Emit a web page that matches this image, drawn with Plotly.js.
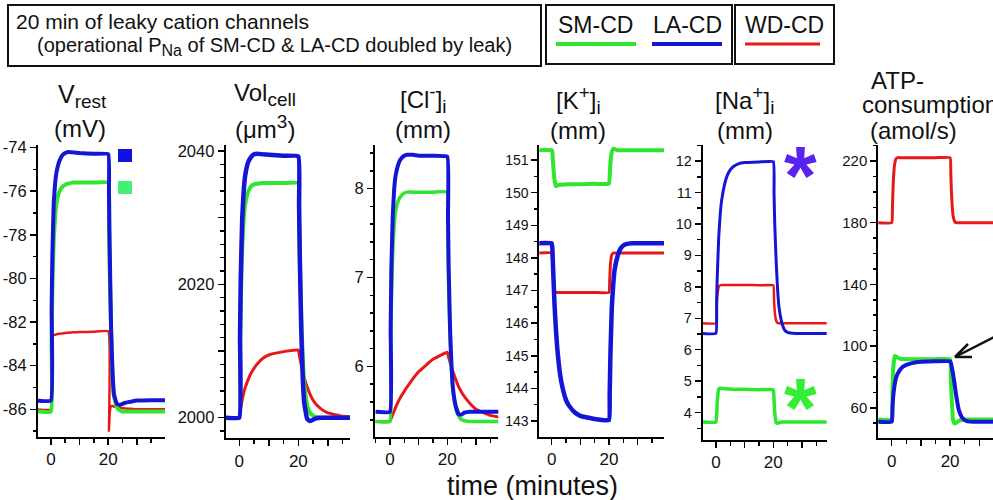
<!DOCTYPE html>
<html><head><meta charset="utf-8">
<script src="https://cdn.plot.ly/plotly-3.0.1.min.js"></script>
<style>html,body{margin:0;padding:0;background:#fff}#chart{width:993px;height:500px}</style>
</head><body><div id="chart"></div>
<script>
// ---- data (time in minutes) ----
const time = [-5, 0, 0.25, 0.5, 1, 1.5, 2, 3, 4, 5, 6, 8, 10, 15, 20, 20.25, 20.5, 21, 21.5, 22, 23, 24, 25, 26, 28, 30, 35, 40];

// V_rest (mV)
const vrestSM = [-86.1, -86.1, -83.0, -80.5, -78.2, -77.1, -76.5, -76.0, -75.8, -75.7, -75.65, -75.6, -75.6, -75.6, -75.6, -77.5, -79.5, -82.5, -84.5, -85.4, -85.9, -86.05, -86.1, -86.1, -86.1, -86.1, -86.1, -86.1];
const vrestLA = [-85.6, -85.6, -81.5, -79.0, -76.5, -75.6, -75.1, -74.6, -74.35, -74.25, -74.2, -74.22, -74.25, -74.28, -74.3, -76.0, -78.5, -82.3, -84.3, -85.3, -85.75, -85.8, -85.75, -85.7, -85.65, -85.6, -85.58, -85.58];
const vrestWD = [-86.0, -86.0, -82.1, -82.6, -82.6, -82.58, -82.56, -82.54, -82.52, -82.5, -82.49, -82.47, -82.46, -82.44, -82.42, -87.0, -86.2, -85.85, -85.85, -85.87, -85.9, -85.93, -85.95, -85.96, -85.98, -86.0, -86.0, -86.0];

// Vol_cell (um3)
const volSM = [2000, 2000, 2009, 2017, 2025.5, 2029.8, 2032, 2033.9, 2034.7, 2035, 2035.1, 2035.2, 2035.2, 2035.2, 2035.2, 2030, 2024, 2015, 2009, 2005, 2001.8, 2000.7, 2000.3, 2000.1, 2000, 2000, 2000, 2000];
const volLA = [2000, 2000, 2012, 2021, 2030, 2034, 2036.3, 2038.3, 2039.1, 2039.5, 2039.6, 2039.5, 2039.45, 2039.3, 2039.2, 2032, 2024, 2013, 2006, 2002.2, 1999.8, 1999.5, 1999.7, 1999.9, 2000, 2000, 2000, 2000];
const volWD = [2000, 2000, 2000.8, 2001.5, 2002.7, 2003.7, 2004.5, 2005.7, 2006.7, 2007.4, 2008, 2008.9, 2009.4, 2009.9, 2010.15, 2009.6, 2009.0, 2007.9, 2006.9, 2006.0, 2004.6, 2003.5, 2002.6, 2002.0, 2001.2, 2000.7, 2000.2, 2000.05];

// [Cl-]i (mm)
const clSM = [5.38, 5.38, 6.1, 6.7, 7.3, 7.6, 7.75, 7.87, 7.92, 7.95, 7.96, 7.96, 7.96, 7.96, 7.96, 7.4, 6.9, 6.3, 5.95, 5.72, 5.52, 5.44, 5.4, 5.39, 5.38, 5.38, 5.38, 5.38];
const clLA = [5.49, 5.49, 6.4, 7.1, 7.7, 8.0, 8.15, 8.28, 8.34, 8.37, 8.38, 8.38, 8.37, 8.37, 8.36, 7.7, 7.1, 6.4, 6.0, 5.75, 5.55, 5.46, 5.46, 5.48, 5.49, 5.49, 5.49, 5.49];
const clWD = [5.38, 5.38, 5.40, 5.42, 5.46, 5.5, 5.54, 5.61, 5.67, 5.72, 5.77, 5.86, 5.94, 6.08, 6.16, 6.13, 6.1, 6.04, 5.99, 5.94, 5.85, 5.77, 5.71, 5.66, 5.58, 5.52, 5.45, 5.42];

// [K+]i (mm)
const kSM = [151.3, 151.3, 151.25, 150.9, 150.4, 150.2, 150.22, 150.24, 150.25, 150.25, 150.26, 150.26, 150.26, 150.27, 150.27, 150.5, 150.9, 151.25, 151.35, 151.33, 151.3, 151.3, 151.3, 151.3, 151.3, 151.3, 151.3, 151.3];
const kLA = [148.45, 148.45, 148.3, 147.7, 146.6, 145.8, 145.2, 144.4, 143.95, 143.65, 143.48, 143.27, 143.16, 143.06, 143.03, 143.8, 145.0, 146.5, 147.2, 147.65, 148.05, 148.28, 148.38, 148.42, 148.45, 148.45, 148.45, 148.45];
const kWD = [148.15, 148.15, 148.0, 147.5, 147.0, 146.95, 146.94, 146.94, 146.94, 146.94, 146.94, 146.94, 146.94, 146.94, 146.94, 147.3, 147.8, 148.1, 148.15, 148.15, 148.15, 148.15, 148.15, 148.15, 148.15, 148.15, 148.15, 148.15];

// [Na+]i (mm)
const naSM = [3.7, 3.7, 3.9, 4.4, 4.75, 4.78, 4.77, 4.76, 4.75, 4.75, 4.74, 4.74, 4.74, 4.73, 4.73, 4.4, 4.0, 3.68, 3.66, 3.68, 3.7, 3.7, 3.7, 3.7, 3.7, 3.7, 3.7, 3.7];
const naLA = [6.52, 6.52, 7.6, 8.4, 9.6, 10.3, 10.75, 11.25, 11.55, 11.72, 11.82, 11.92, 11.95, 11.97, 11.98, 11.0, 10.0, 8.8, 7.9, 7.35, 6.85, 6.62, 6.55, 6.53, 6.52, 6.52, 6.52, 6.52];
const naWD = [6.84, 6.84, 7.3, 7.7, 8.0, 8.05, 8.06, 8.06, 8.06, 8.06, 8.06, 8.06, 8.06, 8.05, 8.05, 7.6, 7.2, 6.92, 6.85, 6.84, 6.84, 6.84, 6.84, 6.84, 6.84, 6.84, 6.84, 6.84];

// ATP consumption (amol/s)
const atpSM = [52.4, 52.4, 70, 85, 93.5, 93.3, 92.5, 91.8, 91.6, 91.5, 91.5, 91.5, 91.5, 91.5, 91.5, 80, 68, 52, 49.8, 50.2, 51.5, 52.2, 52.4, 52.4, 52.4, 52.4, 52.4, 52.4];
const atpLA = [50.9, 50.9, 60, 67, 75, 79.5, 82, 85, 86.8, 87.8, 88.5, 89.4, 89.8, 90.1, 90.2, 89, 87, 82, 76, 69, 58.5, 54, 52, 51.2, 50.9, 50.9, 50.9, 50.9];
const atpWD = [180, 180, 190, 205, 218, 221.5, 222.2, 222.2, 222.2, 222.2, 222.2, 222.2, 222.2, 222.2, 222.2, 212, 198, 185, 181, 180, 180, 180, 180, 180, 180, 180, 180, 180];

// tick labels
const xTickVals = [0, 10, 20, 30];
const xTickText = ['0', '', '20', ''];
const vrestTicks = [-86, -84, -82, -80, -78, -76, -74];
const vrestTickText = ['-86', '-84', '-82', '-80', '-78', '-76', '-74'];
const volTicks = [2000, 2010, 2020, 2030, 2040];
const volTickText = ['2000', '', '2020', '', '2040'];
const clTicks = [6, 7, 8];
const kTicks = [143, 144, 145, 146, 147, 148, 149, 150, 151];
const naTicks = [4, 5, 6, 7, 8, 9, 10, 11, 12];
const atpTicks = [60, 100, 140, 180, 220];

// ---- styling / layout ----
const W = 993, H = 500;
const fx = v => v / W, fy = v => 1 - v / H;
const GREEN = '#2fe62f', BLUE = '#1515d6', RED = '#e81818';
const FONT = 'Liberation Sans, Arial, sans-serif';

const panels = [
  {sm: vrestSM, la: vrestLA, wd: vrestWD, px: [38, 165], py: [145, 437], xr: [-4.5, 39.8], yr: [-87.27, -73.88], tv: vrestTicks, tt: vrestTickText, minor: 1, fs: 16.5, w: [2.5, 4, 4]},
  {sm: volSM, la: volLA, wd: volWD, px: [225.7, 350], py: [145, 438.3], xr: [-4.6, 37.5], yr: [1996.9, 2040.9], tv: volTicks, tt: volTickText, minor: 2, fs: 16.5, w: [3, 4, 4.5]},
  {sm: clSM, la: clLA, wd: clWD, px: [375, 498.3], py: [145, 436.7], xr: [-5.2, 37.8], yr: [5.21, 8.49], tv: clTicks, tt: clTicks.map(String), minor: 0.2, fs: 16.5, w: [3, 3.5, 4]},
  {sm: kSM, la: kLA, wd: kWD, px: [539.3, 664], py: [145, 436.7], xr: [-4.3, 39.2], yr: [142.52, 151.46], tv: kTicks, tt: kTicks.map(String), minor: 0.5, fs: 14, w: [3, 4, 4.5]},
  {sm: naSM, la: naLA, wd: naWD, px: [702.7, 826.7], py: [145, 440], xr: [-4.6, 38.6], yr: [3.13, 12.51], tv: naTicks, tt: naTicks.map(String), minor: 0.5, fs: 14.5, w: [2.5, 3.5, 3]},
  {sm: atpSM, la: atpLA, wd: atpWD, px: [878.3, 993], py: [145, 438.3], xr: [-4.6, 34.7], yr: [40.2, 230.4], tv: atpTicks, tt: atpTicks.map(String), minor: 10, fs: 15, w: [3, 4, 4]}
];

const traces = [];
const layout = {
  width: W, height: H, margin: {l: 0, r: 0, t: 0, b: 0},
  paper_bgcolor: '#fff', plot_bgcolor: '#fff', showlegend: false,
  font: {family: FONT, color: '#111'},
  annotations: [], shapes: []
};

panels.forEach((p, i) => {
  const n = i === 0 ? '' : String(i + 1);
  const xa = 'x' + n, ya = 'y' + n;
  [[p.wd, RED, p.w[0]], [p.sm, GREEN, p.w[1]], [p.la, BLUE, p.w[2]]].forEach(([ys, c, w]) => {
    traces.push({x: time, y: ys, xaxis: xa, yaxis: ya, type: 'scatter', mode: 'lines',
      line: {color: c, width: w, shape: 'spline', smoothing: 0.3}, hoverinfo: 'skip'});
  });
  layout['xaxis' + n] = {
    domain: [fx(p.px[0]), fx(p.px[1])], anchor: ya, range: p.xr,
    showgrid: false, zeroline: false, showline: true, linecolor: '#000', linewidth: 2,
    ticks: 'outside', ticklen: 6, tickwidth: 1.5, tickcolor: '#000',
    tickmode: 'array', tickvals: xTickVals, ticktext: xTickText,
    tickfont: {size: 17, family: FONT, color: '#111'},
    minor: {tickmode: 'linear', tick0: 0, dtick: 5, ticklen: 4, tickwidth: 1.5, tickcolor: '#000', showgrid: false}
  };
  layout['yaxis' + n] = {
    domain: [fy(p.py[1]), fy(p.py[0])], anchor: xa, range: p.yr,
    showgrid: false, zeroline: false, showline: true, linecolor: '#000', linewidth: 2,
    ticks: 'outside', ticklen: 6, tickwidth: 1.5, tickcolor: '#000',
    tickmode: 'array', tickvals: p.tv, ticktext: p.tt,
    tickfont: {size: p.fs, family: FONT, color: '#111'},
    minor: {tickmode: 'linear', tick0: p.tv[0], dtick: p.minor, ticklen: 3.5, tickwidth: 1.5, tickcolor: '#000', showgrid: false}
  };
});

function ann(text, x, y, size, opts) {
  layout.annotations.push(Object.assign({text: text, xref: 'paper', yref: 'paper', x: fx(x), y: fy(y),
    xanchor: 'center', yanchor: 'middle', showarrow: false, font: {size: size, family: FONT, color: '#111'}}, opts || {}));
}
const s = t => '<span style="font-size:19px">' + t + '</span>';
// panel titles
ann('V<sub>' + s('rest') + '</sub>', 82, 96, 25);
ann('(mV)', 80, 128, 24);
ann('Vol<sub>' + s('cell') + '</sub>', 265, 95, 24);
ann('(μm<sup>' + s('3') + '</sup>)', 265, 127, 24);
ann('[Cl<sup>' + s('-') + '</sup>]<sub>' + s('i') + '</sub>', 423, 99, 24);
ann('(mm)', 423, 129, 24);
ann('[K<sup>' + s('+') + '</sup>]<sub>' + s('i') + '</sub>', 578, 100, 24);
ann('(mm)', 578, 130, 24);
ann('[Na<sup>' + s('+') + '</sup>]<sub>' + s('i') + '</sub>', 744, 100, 24);
ann('(mm)', 745, 130, 24);
ann('ATP-', 897, 80, 24);
ann('consumption', 930, 105, 24);
ann('(amol/s)', 913, 130, 24);
ann('time (minutes)', 532, 486, 27);
// asterisks
ann('*', 800, 176, 84, {font: {size: 84, family: FONT, color: '#5a22ee', weight: 'bold'}});
ann('*', 800, 408, 84, {font: {size: 84, family: FONT, color: '#33ee33', weight: 'bold'}});

// header
function rect(x0, y0, x1, y1) {
  layout.shapes.push({type: 'rect', xref: 'paper', yref: 'paper', x0: fx(x0), x1: fx(x1), y0: fy(y1), y1: fy(y0), line: {color: '#111', width: 2}});
}
function seg(x0, y0, x1, y1, c, w) {
  layout.shapes.push({type: 'line', xref: 'paper', yref: 'paper', x0: fx(x0), x1: fx(x1), y0: fy(y0), y1: fy(y1), line: {color: c, width: w}});
}
rect(8, 5, 541, 66);
rect(546, 5, 732, 64);
rect(735, 5, 834, 64);
ann('20 min of leaky cation channels', 14, 21, 21, {xanchor: 'left'});
ann('(operational P<sub><span style="font-size:16px">Na</span></sub> of SM-CD &amp; LA-CD doubled by leak)', 35, 47, 20, {xanchor: 'left'});
ann('SM-CD', 595, 25, 23);
ann('LA-CD', 687, 25, 23);
ann('WD-CD', 784, 25, 23);
seg(556, 44, 636, 44, GREEN, 4);
seg(652, 44, 722, 44, BLUE, 4);
seg(745, 44, 820, 44, RED, 3);

// squares in Vrest panel
layout.shapes.push({type: 'rect', xref: 'paper', yref: 'paper', x0: fx(118), x1: fx(132), y0: fy(162), y1: fy(149), fillcolor: '#1212e0', line: {width: 0}});
layout.shapes.push({type: 'rect', xref: 'paper', yref: 'paper', x0: fx(118), x1: fx(132), y0: fy(194), y1: fy(181), fillcolor: '#44ee77', line: {width: 0}});

// arrow in ATP panel
seg(955, 357, 1000, 334, '#111', 2.5);
seg(955, 357, 968, 344, '#111', 2.5);
seg(955, 357, 972, 357, '#111', 2.5);

Plotly.newPlot('chart', traces, layout, {staticPlot: true, displayModeBar: false});
</script></body></html>
